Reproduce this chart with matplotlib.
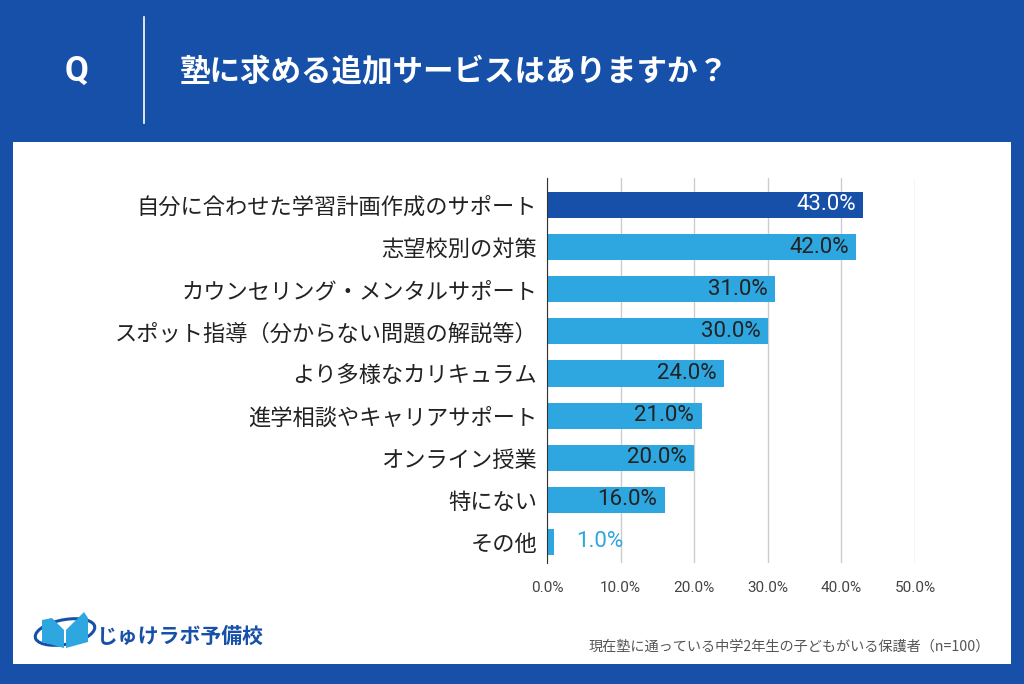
import matplotlib.pyplot as plt
from matplotlib.patches import Rectangle, Polygon, Ellipse
from matplotlib.ticker import FuncFormatter

plt.rcParams['font.family'] = ['Noto Sans CJK JP', 'DejaVu Sans']

# data
categories = ['自分に合わせた学習計画作成のサポート', '志望校別の対策', 'カウンセリング・メンタルサポート',
              'スポット指導（分からない問題の解説等）', 'より多様なカリキュラム', '進学相談やキャリアサポート',
              'オンライン授業', '特にない', 'その他']
values = [43.0, 42.0, 31.0, 30.0, 24.0, 21.0, 20.0, 16.0, 1.0]
title = '塾に求める追加サービスはありますか？'
note = '現在塾に通っている中学2年生の子どもがいる保護者（n=100）'

BLUE = '#1650a8'
LIGHT = '#2ea6e0'

fig = plt.figure(figsize=(10.24, 6.84), dpi=100)
fig.patch.set_facecolor(BLUE)

# white panel
fig.add_artist(Rectangle((13 / 1024, 1 - 664 / 684), 998 / 1024, 522 / 684,
                         transform=fig.transFigure, facecolor='white', edgecolor='none', zorder=0))

# header
fig.text(77 / 1024, 1 - 71 / 684, 'Q', color='white', fontsize=25, fontweight='bold',
         ha='center', va='center', family=['Roboto', 'DejaVu Sans'])
fig.add_artist(plt.Line2D([144 / 1024, 144 / 1024], [1 - 17 / 684, 1 - 123 / 684],
                          transform=fig.transFigure, color='white', lw=1.2))
fig.text(180 / 1024, 1 - 71 / 684, title, color='white', fontsize=22, fontweight='bold',
         ha='left', va='center')

# chart
ax = fig.add_axes([547 / 1024, 1 - 563 / 684, 368 / 1024, 385 / 684])
ypos = list(range(len(categories)))
colors = [BLUE] + [LIGHT] * (len(values) - 1)
ax.barh(ypos, values, height=0.62, color=colors, zorder=3)
ax.set_xlim(0, 50)
ax.set_ylim(8.5, -0.64)
ax.set_xticks([0, 10, 20, 30, 40, 50])
ax.xaxis.set_major_formatter(FuncFormatter(lambda v, p: '{:.1f}%'.format(v)))
ax.grid(axis='x', color='#cccccc', lw=1, zorder=0)
for s in ['top', 'right', 'bottom']:
    ax.spines[s].set_visible(False)
ax.spines['left'].set_color('#333333')
ax.spines['left'].set_zorder(5)
ax.tick_params(axis='x', length=0, labelsize=11, labelcolor='#444444', pad=13)
ax.tick_params(axis='y', length=0, pad=7)
ax.set_yticks(ypos)
ax.set_yticklabels(categories, fontsize=16, color='#222222')
for t in ax.get_xticklabels():
    t.set_family(['Roboto', 'DejaVu Sans'])

for i, v in enumerate(values):
    label = '{:.1f}%'.format(v)
    if v < 5:
        ax.text(v + 3, i, label, color=LIGHT, fontsize=16, ha='left', va='center',
                family=['Roboto', 'DejaVu Sans'], zorder=4)
    else:
        c = 'white' if i == 0 else '#222222'
        ax.text(v - 1.0, i, label, color=c, fontsize=16, ha='right', va='center',
                family=['Roboto', 'DejaVu Sans'], zorder=4)

# logo (rough)
fig.add_artist(Ellipse((65 / 1024, 1 - 632 / 684), 62 / 1024, 24 / 684, angle=20,
                       transform=fig.transFigure, fill=False, edgecolor=BLUE, lw=2.2))
fig.add_artist(Polygon([[42 / 1024, 1 - 620 / 684], [52 / 1024, 1 - 618 / 684], [64 / 1024, 1 - 630 / 684],
                        [64 / 1024, 1 - 648 / 684], [42 / 1024, 1 - 642 / 684]],
                       transform=fig.transFigure, facecolor=LIGHT, edgecolor='none'))
fig.add_artist(Polygon([[66 / 1024, 1 - 630 / 684], [84 / 1024, 1 - 612 / 684], [88 / 1024, 1 - 618 / 684],
                        [88 / 1024, 1 - 642 / 684], [66 / 1024, 1 - 648 / 684]],
                       transform=fig.transFigure, facecolor=LIGHT, edgecolor='none'))
fig.text(97 / 1024, 1 - 636 / 684, 'じゅけラボ予備校', color=BLUE, fontsize=15, fontweight='bold',
         ha='left', va='center')

fig.text(990 / 1024, 1 - 647 / 684, note, color='#555555', fontsize=10.2, ha='right', va='center')

fig.savefig('out.png', dpi=100, facecolor=fig.get_facecolor())
